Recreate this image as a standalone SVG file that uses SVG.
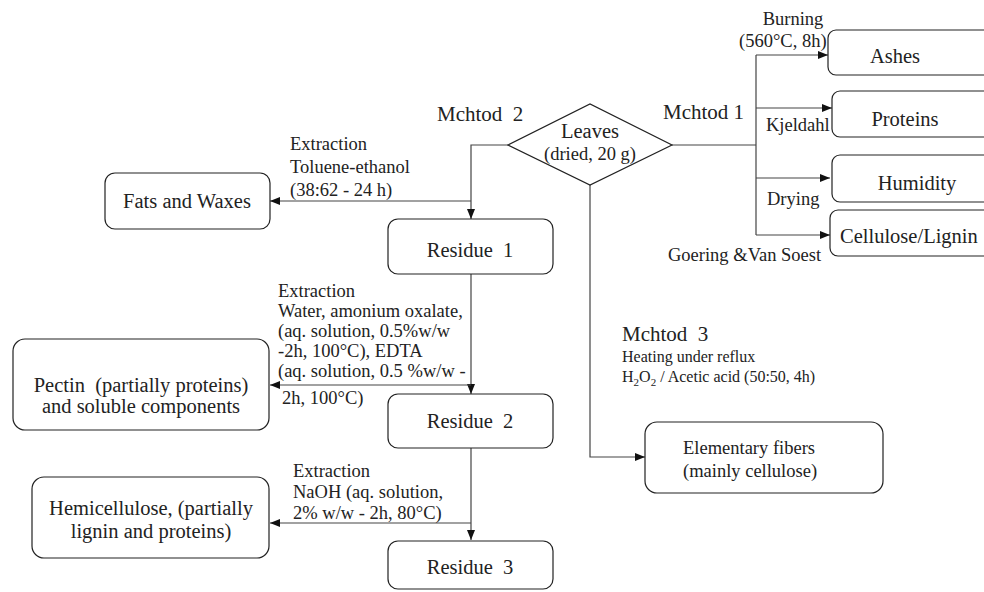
<svg xmlns="http://www.w3.org/2000/svg" width="984" height="592" viewBox="0 0 984 592" font-family="Liberation Serif, Times New Roman, serif">
<style>
.box{fill:#fff;stroke:#222;stroke-width:1.2}
.c{fill:none;stroke:#444;stroke-width:1.2}
text{font-family:"Liberation Serif","Times New Roman",serif;fill:#222}
.n{font-size:20.5px}
.h{font-size:21px}
.l{font-size:18.5px}
.s{font-size:16px}
.m{text-anchor:middle}
</style>
<defs>
<marker id="a" viewBox="0 0 10 8" refX="10" refY="4" markerWidth="10" markerHeight="8" markerUnits="userSpaceOnUse" orient="auto">
<path d="M0,0 L10,4 L0,8 Z" fill="#111"/>
</marker>
</defs>
<rect width="984" height="592" fill="#fff"/>
<g id="connectors">
<path class="c" d="M508,145 H471 V219" marker-end="url(#a)"/>
<path class="c" d="M471,201 H270" marker-end="url(#a)"/>
<path class="c" d="M471,274 V394" marker-end="url(#a)"/>
<path class="c" d="M471,385 H270" marker-end="url(#a)"/>
<path class="c" d="M471,448 V540" marker-end="url(#a)"/>
<path class="c" d="M471,523 H270" marker-end="url(#a)"/>
<path class="c" d="M590,185 V457 H645" marker-end="url(#a)"/>
<path class="c" d="M672,145 H756"/>
<path class="c" d="M756,55 V235"/>
<path class="c" d="M756,55 H828" marker-end="url(#a)"/>
<path class="c" d="M756,108 H832" marker-end="url(#a)"/>
<path class="c" d="M756,178 H830" marker-end="url(#a)"/>
<path class="c" d="M756,235 H830" marker-end="url(#a)"/>
</g>
<g id="labels">
<text class="h" x="437" y="121" xml:space="preserve">Mchtod  2</text>
<text class="h" x="663" y="119">Mchtod 1</text>
<text class="l" x="290" y="150">Extraction</text>
<text class="l" x="290" y="173">Toluene-ethanol</text>
<text class="l" x="290" y="196">(38:62 - 24 h)</text>
<text class="l" x="278" y="297">Extraction</text>
<text class="l" x="278" y="317">Water, amonium oxalate,</text>
<text class="l" x="278" y="337">(aq. solution, 0.5%w/w</text>
<text class="l" x="278" y="357">-2h, 100°C), EDTA</text>
<text class="l" x="278" y="377">(aq. solution, 0.5 %w/w -</text>
<text class="l" x="282" y="404">2h, 100°C)</text>
<text class="l" x="293" y="477">Extraction</text>
<text class="l" x="293" y="498">NaOH (aq. solution,</text>
<text class="l" x="293" y="519">2% w/w - 2h, 80°C)</text>
<text class="l m" x="793" y="25">Burning</text>
<text class="l" x="739" y="47">(560°C, 8h)</text>
<text class="l" x="766" y="131">Kjeldahl</text>
<text class="l" x="767" y="205">Drying</text>
<text class="l" x="668" y="261">Goering &amp;Van Soest</text>
<text class="h" x="622" y="341" xml:space="preserve">Mchtod  3</text>
<text class="s" x="622" y="362">Heating under reflux</text>
<text class="s" x="622" y="382">H<tspan font-size="11" dy="4">2</tspan><tspan dy="-4">O</tspan><tspan font-size="11" dy="4">2</tspan><tspan dy="-4"> / Acetic acid (50:50, 4h)</tspan></text>
</g>
<g id="leaves">
<polygon class="box" points="508,145 590,104 672,145 590,185"/>
<text class="n m" x="590" y="138">Leaves</text>
<text class="l m" x="590" y="160">(dried, 20 g)</text>
</g>
<g id="fats">
<rect class="box" x="105" y="173" width="165" height="56" rx="10"/>
<text class="n m" x="187" y="208">Fats and Waxes</text>
</g>
<g id="residue1">
<rect class="box" x="388" y="219" width="165" height="55" rx="10"/>
<text class="n m" x="470" y="257" xml:space="preserve">Residue  1</text>
</g>
<g id="pectin">
<rect class="box" x="13" y="339" width="256" height="91" rx="12"/>
<text class="n m" x="141" y="392" xml:space="preserve">Pectin  (partially proteins)</text>
<text class="n m" x="141" y="413">and soluble components</text>
</g>
<g id="residue2">
<rect class="box" x="388" y="394" width="165" height="54" rx="10"/>
<text class="n m" x="470" y="428" xml:space="preserve">Residue  2</text>
</g>
<g id="hemicellulose">
<rect class="box" x="32" y="477" width="237" height="81" rx="12"/>
<text class="n m" x="151" y="515">Hemicellulose, (partially</text>
<text class="n m" x="151" y="538">lignin and proteins)</text>
</g>
<g id="residue3">
<rect class="box" x="388" y="541" width="165" height="48" rx="10"/>
<text class="n m" x="470" y="574" xml:space="preserve">Residue  3</text>
</g>
<g id="fibers">
<rect class="box" x="645" y="422" width="238" height="71" rx="12"/>
<text class="l" x="683" y="454">Elementary fibers</text>
<text class="l" x="683" y="477">(mainly cellulose)</text>
</g>
<g id="ashes">
<rect class="box" x="828" y="30" width="200" height="45" rx="8"/>
<text class="n m" x="895" y="63">Ashes</text>
</g>
<g id="proteins">
<rect class="box" x="832" y="91" width="200" height="46" rx="8"/>
<text class="n m" x="905" y="126">Proteins</text>
</g>
<g id="humidity">
<rect class="box" x="832" y="155" width="200" height="47" rx="8"/>
<text class="n m" x="917" y="190">Humidity</text>
</g>
<g id="cellulose">
<rect class="box" x="830" y="210" width="200" height="46" rx="8"/>
<text class="n" x="840" y="243">Cellulose/Lignin</text>
</g>
</svg>
